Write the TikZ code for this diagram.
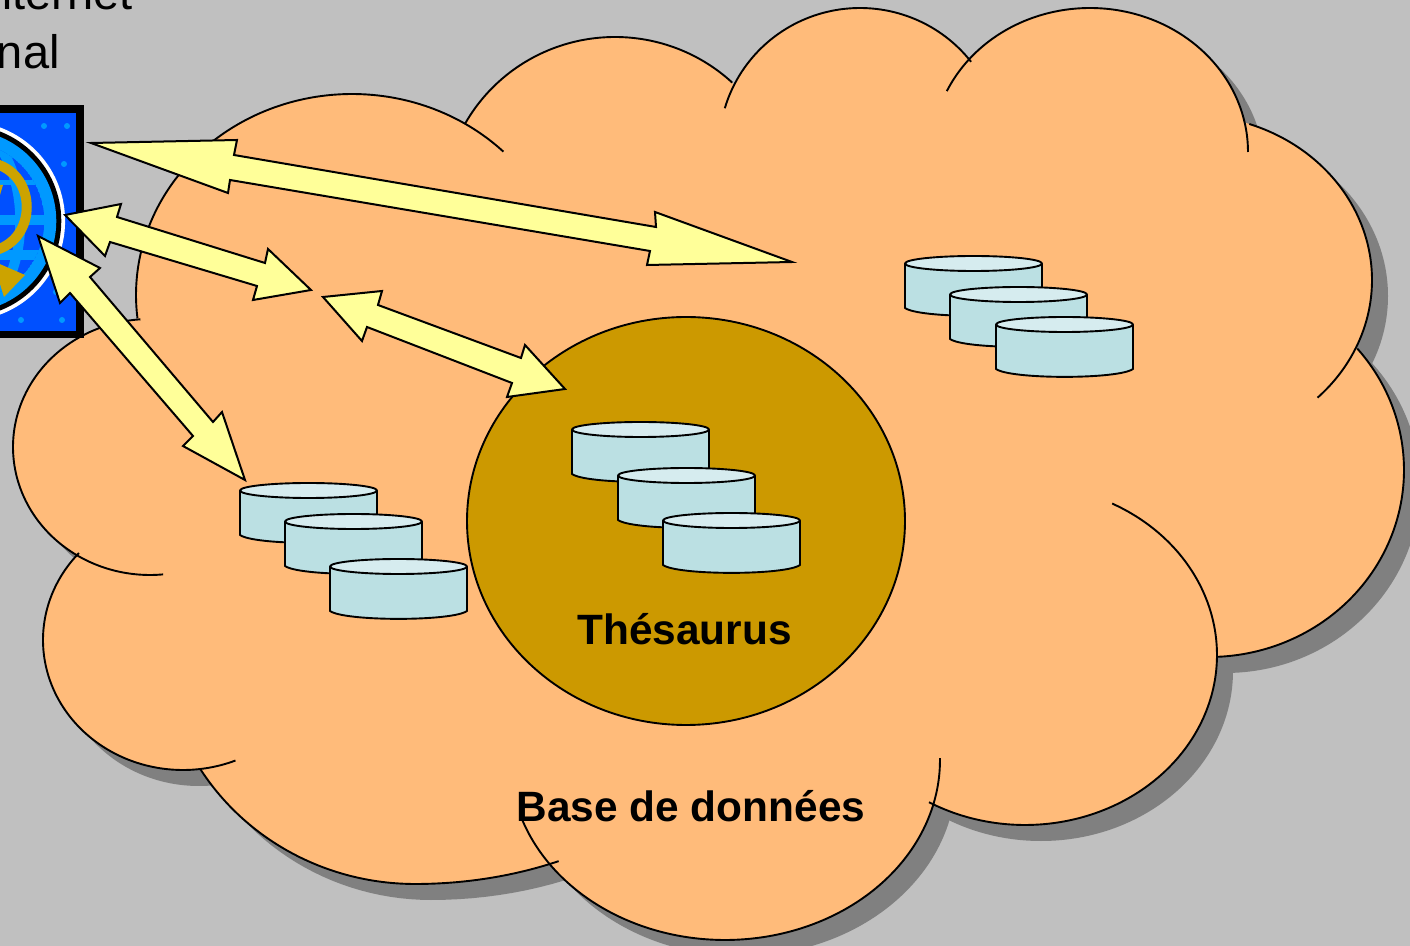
\documentclass[tikz,border=0pt]{standalone}
\usepackage{fontspec}
\setmainfont{Liberation Sans}
\definecolor{bg}{HTML}{C0C0C0}
\definecolor{cloud}{HTML}{FFBB7A}
\definecolor{shadowgrey}{HTML}{808080}
\definecolor{thes}{HTML}{CC9900}
\definecolor{arrowfill}{HTML}{FFFF99}
\definecolor{cylbody}{HTML}{BBE0E3}
\definecolor{cyltop}{HTML}{D6ECEF}
\definecolor{iconblue}{HTML}{0050FF}
\definecolor{iconlight}{HTML}{0099FF}
\definecolor{icongold}{HTML}{CCA300}
\tikzset{
  outline/.style={draw=black,line width=0.95pt,line join=round},
  blockarrow/.style={draw=black,fill=arrowfill,line width=1pt,line join=miter},
  cyl/.style={draw=black,line width=0.95pt,line join=round},
  biglabel/.style={font=\fontsize{21.2}{25}\selectfont\bfseries,text=black,inner sep=0pt,anchor=base},
  toplabel/.style={font=\fontsize{23.5}{27}\selectfont,text=black,inner sep=0pt,anchor=base east},
}
% filled lobes
\newcommand{\lobes}[1]{%
  \fill[#1] (352,295) ellipse [x radius=216,y radius=201];
  \fill[#1] (615,207) ellipse [x radius=172,y radius=170];
  \fill[#1] (860,148) ellipse [x radius=141,y radius=140];
  \fill[#1] (1090,152) ellipse [x radius=158,y radius=144];
  \fill[#1] (1190,280) ellipse [x radius=182,y radius=165];
  \fill[#1] (1209,470) ellipse [x radius=195,y radius=187];
  \fill[#1] (1025,655) ellipse [x radius=192,y radius=170];
  \fill[#1] (725,760) ellipse [x radius=215,y radius=180];
  \fill[#1] plot[domain=0:90,samples=40] ({415+340*cos(\x)},{640+244*sin(\x)}) -- (415,640) -- cycle;
  \fill[#1] plot[domain=90:180,samples=40] ({415+253*cos(\x)},{640+244*sin(\x)}) -- (415,640) -- cycle;
  \fill[#1] (183,640) ellipse [x radius=140,y radius=130];
  \fill[#1] (150,447) ellipse [x radius=137,y radius=128];
  \fill[#1] (300,300) -- (600,200) -- (1200,200) -- (1250,600) -- (700,800) -- (200,600) -- cycle;
}
\newcommand{\lobearc}[6]{%
  \draw[outline] plot[domain=#5:#6,samples=70,smooth] ({#1+#3*cos(\x)},{#2+#4*sin(\x)});
}
\newcommand{\cylinder}[2]{%
  \path[cyl,fill=cylbody] (#1,#2+7.5) -- (#1,#2+52)
    .. controls (#1+15,#2+62.5) and (#1+122,#2+62.5) .. (#1+137,#2+52) -- (#1+137,#2+7.5) -- cycle;
  \path[cyl,fill=cyltop] (#1+68.5,#2+7.5) ellipse [x radius=68.5,y radius=7.5];
}
\begin{document}
\begin{tikzpicture}[x=0.5pt,y=-0.5pt]
\useasboundingbox (0,0) rectangle (1410,946);
\clip (0,0) rectangle (1410,946);
\fill[bg] (0,0) rectangle (1410,946);
% top-left text
\node[toplabel] (inet) at (133,10) {Internet};
\node[toplabel] (nal) at (60,69) {nal};
% shadow and cloud
\begin{scope}[shift={(16,16)}]
  \lobes{shadowgrey}
\end{scope}
\lobes{cloud}
\lobearc{352}{295}{216}{201}{173.3}{314.5}
\lobearc{615}{207}{172}{170}{209.5}{313}
\lobearc{860}{148}{141}{140}{196.5}{322}
\lobearc{1090}{152}{158}{144}{205}{360}
\lobearc{1190}{280}{182}{165}{289}{405.5}
\lobearc{1209}{470}{195}{187}{319.5}{447.5}
\lobearc{1025}{655}{192}{170}{-63}{120}
\lobearc{725}{760}{215}{180}{-0.6}{162}
\lobearc{415}{640}{340}{244}{65}{90}
\lobearc{415}{640}{253}{244}{90}{148}
\lobearc{183}{640}{140}{130}{68}{222}
\lobearc{150}{447}{137}{128}{84.5}{266}
% icon
\fill[black] (-5,105) rectangle (84,338);
\fill[iconblue] (-5,113) rectangle (76,331);
\foreach \p in {(44,126),(67,126),(64,164),(21,320),(62,320),(56,292)}
  \fill[iconlight] \p circle (3);
\fill[white] (-34.7,221) circle (99.8);
\fill[black] (-34.7,221) circle (96);
\fill[iconlight] (-34.7,221) circle (91);
\begin{scope}
  \clip (-34.7,221) circle (79);
  \fill[iconblue] (-34.7,221) circle (79);
  \draw[iconlight,line width=2.5pt] (-40,183) -- (60,183);
  \draw[iconlight,line width=5pt] (-40,220) -- (60,220);
  \draw[iconlight,line width=5pt] (-40,255) -- (60,255);
  \draw[iconlight,line width=5pt] (-34.7,221) ellipse [x radius=55,y radius=95];
\end{scope}
\draw[icongold,line width=5pt] (-4,164) .. controls (37,176) and (37,238) .. (-4,250);
\fill[icongold] (3,185) -- (-5,185) -- (-3,205) -- cycle;
\fill[icongold] (-5,262) -- (25,275) -- (4,297) -- (0,284) -- (-5,284) -- cycle;
% Thesaurus circle
\path[outline,fill=thes] (686,521) ellipse [x radius=219,y radius=204];
% cylinders
\cylinder{905}{256}\cylinder{950}{287}\cylinder{996}{317}
\cylinder{572}{422}\cylinder{618}{468}\cylinder{663}{513}
\cylinder{240}{483}\cylinder{285}{514}\cylinder{330}{559}
% arrows
\path[blockarrow] (91,143) -- (237,140) -- (234,155) -- (656,227) -- (655,212) -- (792,262) -- (647,265) -- (650,251) -- (230,180) -- (228,193) -- cycle;
\path[blockarrow] (65,215) -- (121,204) -- (117,217) -- (265,263) -- (268,249) -- (311,290) -- (253,300) -- (257,286) -- (110,242) -- (105,256) -- cycle;
\path[blockarrow] (38,236) -- (100,268) -- (90,277) -- (213,422) -- (222,412) -- (245,480) -- (183,446) -- (193,436) -- (70,293) -- (60,303) -- cycle;
\path[blockarrow] (323,297) -- (382,291) -- (378,305) -- (521,358) -- (525,345) -- (565,389) -- (507,397) -- (512,383) -- (367,327) -- (362,341) -- cycle;
% labels
\node[biglabel] (thesaurus) at (684.5,645) {Thésaurus};
\node[biglabel] (base) at (691,821) {Base de données};
\end{tikzpicture}
\end{document}
